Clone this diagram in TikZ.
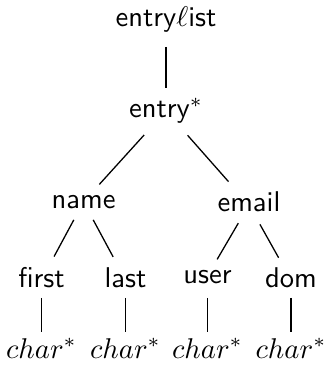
\documentclass[tikz,border=0pt]{standalone}
\begin{document}
\begin{tikzpicture}[x=0.35pt,y=-0.35pt,
  lab/.style={anchor=base,inner sep=0pt,text height=7pt,text depth=2pt,font=\sffamily},
  edge/.style 2 args={line width=0.45pt,shorten <=#1*0.35pt,shorten >=#2*0.35pt}]
\useasboundingbox (0,0) rectangle (326,366);
\node[lab] (L) at (166,27) {entry$\ell$ist};
\node[lab] (E) at (166,118) {entry$^*$};
\node[lab] (N) at (83.5,209) {name};
\node[lab] (M) at (249,212) {email};
\node[lab] (F) at (41.5,287) {first};
\node[lab] (A) at (125.5,287) {last};
\node[lab] (U) at (207.5,283) {user};
\node[lab] (D) at (291,287) {dom};
\node[lab] (C1) at (41.5,358) {$char^*$};
\node[lab] (C2) at (125.5,358) {$char^*$};
\node[lab] (C3) at (207.5,358) {$char^*$};
\node[lab] (C4) at (291,358) {$char^*$};
\draw[edge={27}{23}] (L.center) -- (E.center);
\draw[edge={32.6}{23.6}] (E.center) -- (N.center);
\draw[edge={32.6}{31}] (E.center) -- (M.center);
\draw[edge={20.4}{26.5}] (N.center) -- (F.center);
\draw[edge={20.4}{26.1}] (N.center) -- (A.center);
\draw[edge={21.2}{19.1}] (M.center) -- (U.center);
\draw[edge={22.3}{25.4}] (M.center) -- (D.center);
\draw[edge={18.1}{18.9}] (F.center) -- (C1.center);
\draw[edge={18.1}{18.9}] (A.center) -- (C2.center);
\draw[edge={22.1}{18.9}] (U.center) -- (C3.center);
\draw[edge={18.1}{18.9}] (D.center) -- (C4.center);
\end{tikzpicture}
\end{document}
